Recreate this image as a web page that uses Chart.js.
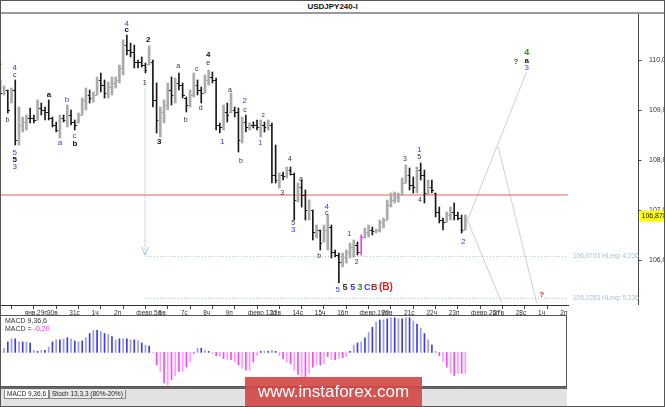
<!DOCTYPE html>
<html>
<head>
<meta charset="utf-8">
<script src="https://cdn.jsdelivr.net/npm/chart.js@4.4.0/dist/chart.umd.min.js"></script>
<style>
  html, body { margin: 0; padding: 0; background: #fff; }
  #frame { position: relative; width: 665px; height: 407px; overflow: hidden; background: #fff; font-family: "Liberation Sans", Arial, sans-serif; }
  #title { position: absolute; left: 0; top: 2px; width: 100%; text-align: center; font: bold 8px "Liberation Sans", Arial, sans-serif; color: #111; }
  #titleLine { position: absolute; left: 0; top: 12px; width: 100%; height: 2px; background: #9a9a9a; }
  #priceCanvas { position: absolute; left: 0; top: 14px; }
  #macdBox { position: absolute; left: 0; top: 315px; width: 567px; height: 72px; border: 1px solid #555; box-sizing: border-box; }
  #macdCanvas { position: absolute; left: 0; top: 0; }
  .macdTxt { position: absolute; left: 4px; font: 7px "Liberation Sans", Arial, sans-serif; color: #333; white-space: nowrap; }
  #tabs { position: absolute; left: 0; top: 387px; width: 567px; height: 20px; background: #e2e2e2; border-top: 2px solid #666; box-sizing: border-box; }
  .tab { position: absolute; top: 1px; height: 8px; font: 6.5px "Liberation Sans", Arial, sans-serif; line-height: 8px; color: #222; border: 1px solid #888; border-top: none; padding: 0 2px; white-space: nowrap; }
  #wm { position: absolute; left: 245px; top: 377px; width: 177px; height: 30px; background: rgba(212, 72, 72, 0.92); color: #fff; font: 17px "Liberation Sans", Arial, sans-serif; line-height: 30px; text-align: center; }
  #border { position: absolute; left: 0; top: 0; width: 665px; height: 407px; border: 1px solid #555; box-sizing: border-box; pointer-events: none; }
</style>
</head>
<body>
<div id="frame">
  <div id="title">USDJPY240-I</div>
  <div id="titleLine"></div>
  <canvas id="priceCanvas" width="665" height="302"></canvas>
  <div id="macdBox">
    <canvas id="macdCanvas" width="565" height="70"></canvas>
    <div class="macdTxt" style="top:1px">MACD 9,36,6</div>
    <div class="macdTxt" style="top:9px">MACD = <span style="color:#ff33ff">-0,20</span></div>
  </div>
  <div id="tabs">
    <div class="tab" style="left:4px;background:#fff">MACD 9,36,6</div>
    <div class="tab" style="left:49px;background:#e8e8e8">Stoch 13,3,3 (80%-20%)</div>
  </div>
  <div id="wm">www.instaforex.com</div>
  <div id="border"></div>
</div>
<script>
// 4h bars, index 0 = Jan 29 00:00
const FIRST_BAR = -6;

const highs = [
  109.60, 109.48, 109.40, 109.44, 109.60, 109.06,
  108.86, 108.90, 109.04, 108.90, 109.20, 109.14, 109.06, 109.20, 108.86, 108.76,
  108.90, 108.90, 109.10, 109.00, 108.80, 108.94, 109.24, 109.44, 109.40, 109.36,
  109.66, 109.74, 109.60, 109.56, 109.66, 109.66, 109.90, 110.40, 110.50, 110.34,
  110.30, 110.00, 110.06, 109.94, 110.28, 110.00, 109.54, 109.06, 109.20, 109.54,
  109.66, 109.64, 109.74, 109.54, 109.26, 109.40, 109.74, 109.60, 109.46, 109.70,
  109.80, 109.76, 109.64, 108.74, 109.10, 109.14, 109.34, 109.06, 109.04, 108.86,
  108.90, 108.74, 108.76, 108.80, 108.80, 108.76, 108.80, 108.74, 108.30, 107.74,
  107.76, 107.86, 107.86, 107.74, 107.54, 107.60, 107.40, 107.20, 107.00, 106.70,
  106.60, 106.70, 106.90, 106.70, 106.20, 106.14, 106.14, 106.20, 106.34, 106.40,
  106.36, 106.50, 106.64, 106.70, 106.66, 106.62, 106.80, 106.84, 107.20, 107.34,
  107.36, 107.34, 107.64, 107.90, 107.84, 107.66, 107.86, 107.94, 107.80, 107.60,
  107.60, 107.34, 107.06, 106.84, 106.96, 107.06, 107.14, 106.96, 106.90, 106.90
];
const lows = [
  109.30, 109.30, 108.94, 109.14, 108.30, 108.30,
  108.56, 108.60, 108.74, 108.74, 108.80, 108.90, 108.80, 108.80, 108.66, 108.56,
  108.44, 108.76, 108.66, 108.70, 108.60, 108.74, 108.90, 109.00, 109.14, 109.16,
  109.30, 109.36, 109.24, 109.24, 109.30, 109.44, 109.54, 109.70, 110.10, 110.06,
  109.84, 109.84, 109.86, 109.74, 109.90, 109.06, 108.54, 108.46, 108.74, 109.00,
  109.10, 109.14, 109.40, 109.24, 108.96, 109.06, 109.26, 109.30, 109.14, 109.34,
  109.50, 109.54, 108.60, 108.54, 108.60, 108.76, 108.94, 108.86, 108.16, 108.34,
  108.56, 108.60, 108.64, 108.60, 108.46, 108.56, 108.60, 107.54, 107.54, 107.44,
  107.60, 107.64, 107.70, 106.80, 107.16, 107.06, 106.80, 106.80, 106.40, 106.44,
  106.20, 106.36, 106.20, 106.04, 106.06, 105.54, 105.86, 105.94, 106.04, 106.06,
  106.10, 106.10, 106.44, 106.46, 106.50, 106.54, 106.56, 106.64, 106.80, 107.06,
  107.14, 107.16, 107.30, 107.54, 107.40, 107.34, 107.34, 107.60, 107.14, 107.30,
  107.34, 106.86, 106.74, 106.60, 106.76, 106.80, 106.80, 106.80, 106.54, 106.60
];
const opens = [
  109.50, 109.35, 109.40, 109.15, 109.40, 108.40,
  108.70, 108.75, 108.85, 108.85, 108.80, 109.05, 109.00, 108.95, 108.85, 108.70,
  108.60, 108.85, 108.80, 108.90, 108.75, 108.75, 108.90, 109.20, 109.30, 109.25,
  109.30, 109.60, 109.50, 109.35, 109.45, 109.55, 109.60, 109.85, 110.30, 110.20,
  110.15, 109.95, 109.95, 109.90, 109.92, 109.95, 109.20, 108.80, 108.95, 109.10,
  109.40, 109.30, 109.55, 109.50, 109.25, 109.10, 109.30, 109.50, 109.40, 109.35,
  109.60, 109.65, 109.60, 108.70, 108.65, 108.95, 108.95, 109.00, 108.95, 108.40,
  108.75, 108.65, 108.70, 108.70, 108.65, 108.70, 108.65, 108.70, 107.70, 107.60,
  107.70, 107.68, 107.80, 107.72, 107.20, 107.45, 107.30, 107.00, 107.00, 106.55,
  106.60, 106.38, 106.60, 106.65, 106.15, 106.10, 105.95, 106.05, 106.15, 106.25,
  106.30, 106.15, 106.45, 106.55, 106.60, 106.58, 106.60, 106.75, 106.80, 107.10,
  107.20, 107.25, 107.30, 107.55, 107.70, 107.50, 107.45, 107.80, 107.70, 107.35,
  107.45, 107.34, 106.95, 106.80, 106.76, 106.90, 106.95, 106.90, 106.85, 106.60
];
const closes = [
  109.35, 109.40, 109.00, 109.40, 108.40, 108.70,
  108.75, 108.85, 108.85, 108.80, 109.05, 109.00, 108.95, 108.85, 108.70, 108.60,
  108.85, 108.80, 108.90, 108.75, 108.70, 108.90, 109.20, 109.30, 109.25, 109.30,
  109.60, 109.50, 109.35, 109.45, 109.55, 109.60, 109.85, 110.30, 110.20, 110.15,
  109.95, 109.95, 109.90, 109.80, 109.95, 109.20, 108.80, 108.95, 109.10, 109.40,
  109.30, 109.55, 109.50, 109.30, 109.10, 109.30, 109.50, 109.40, 109.35, 109.60,
  109.65, 109.60, 108.70, 108.65, 108.95, 108.90, 109.00, 108.95, 108.40, 108.75,
  108.65, 108.70, 108.70, 108.65, 108.70, 108.65, 108.70, 107.70, 107.60, 107.70,
  107.68, 107.80, 107.72, 107.20, 107.45, 107.30, 107.00, 107.10, 106.55, 106.60,
  106.35, 106.60, 106.65, 106.15, 106.10, 105.95, 106.05, 106.15, 106.25, 106.30,
  106.15, 106.45, 106.55, 106.60, 106.58, 106.60, 106.75, 106.80, 107.10, 107.20,
  107.25, 107.30, 107.55, 107.70, 107.50, 107.45, 107.80, 107.70, 107.35, 107.45,
  107.40, 106.95, 106.80, 106.75, 106.90, 106.95, 106.90, 106.85, 106.60, 106.878
];
const macdHist = [
  0.02, 0.04, 0.10, 0.13, 0.13, 0.10,
  0.10, 0.10, 0.09, 0.02, 0.01, 0.02, 0.02, 0.05, 0.10, 0.12,
  0.12, 0.13, 0.14, 0.13, 0.11, 0.10, 0.11, 0.14, 0.18, 0.21,
  0.21, 0.20, 0.18, 0.17, 0.15, 0.12, 0.13, 0.13, 0.13, 0.12,
  0.12, 0.11, 0.09, 0.07, 0.06, -0.005, -0.12, -0.18, -0.29, -0.31,
  -0.26, -0.22, -0.18, -0.18, -0.14, -0.09, -0.01, 0.04, 0.04, 0.02,
  0.01, -0.01, -0.03, -0.04, -0.06, -0.07, -0.07, -0.09, -0.12, -0.15,
  -0.17, -0.17, -0.09, -0.03, 0.01, 0.01, 0.01, 0.02, 0.01, -0.03,
  -0.06, -0.09, -0.11, -0.17, -0.21, -0.23, -0.23, -0.20, -0.14, -0.12,
  -0.12, -0.11, -0.04, -0.07, -0.07, -0.06, -0.05, -0.04, 0.01, 0.07,
  0.09, 0.10, 0.14, 0.19, 0.24, 0.29, 0.31, 0.31, 0.32, 0.33,
  0.33, 0.32, 0.32, 0.33, 0.33, 0.30, 0.27, 0.23, 0.18, 0.12,
  0.07, 0.01, -0.03, -0.09, -0.14, -0.20, -0.22, -0.20, -0.20, -0.20
];

// one tick per trading day (6 bars)
const dayTicks = [0, 6, 12, 18, 24, 30, 36, 42, 48, 54, 60, 66, 72, 78, 84, 90, 96, 102, 108, 114, 120, 126, 132, 138, 144];
const dayLabels = ["янв.29п", "30в", "31с", "1ч", "2п", "февр.5п", "6в", "7с", "8ч", "9п",
  "февр.12п", "13в", "14с", "15ч", "16п", "февр.19п", "20в", "21с", "22ч", "23п",
  "февр.26п", "27в", "28с", "1ч", "2п"];
const priceTicks = [106, 107, 108, 109, 110];

const levelPrice = 107.3;
const fibLevels = [106.0703, 105.2283];
const fibNames = ["106,0703 HLexp 4,236", "105,2283 HLexp 5,236"];
const fibStart = 32.9;
const arrowLine = [[32.9, 109.64], [32.9, 106.10]];
const arrowHead = [[31.95, 106.26], [32.9, 106.10], [33.85, 106.26]];
const projections = [
  [[118.4, 106.57], [135.5, 109.77]],
  [[127.8, 108.27], [138.2, 105.14]],
  [[119.2, 106.86], [128.8, 105.14]]
];
const lastPrice = 106.878;
const highlightBar = 91;

// wave marks: [bar index, price, text, kind]
const waveLabels = [
  [-6.2, 109.94, "a", "k"], [-2.15, 109.84, "4", "b"], [-2.15, 109.70, "c", "k"],
  [-4.09, 108.80, "b", "k"], [-2.15, 108.14, "5", "b"], [-2.15, 108.00, "5", "kb"],
  [-2.15, 107.86, "3", "b"], [7.07, 109.30, "a", "kb"], [11.9, 109.20, "b", "b"],
  [10.03, 108.34, "a", "b"], [13.9, 108.49, "c", "b"], [14.06, 108.32, "b", "kb"],
  [27.96, 110.72, "4", "b"], [27.96, 110.60, "c", "kb"], [33.76, 110.41, "2", "kb"],
  [32.8, 109.53, "1", "k"], [36.7, 108.37, "3", "kb"], [41.83, 109.87, "a", "k"],
  [43.8, 108.80, "b", "k"], [46.77, 109.81, "c", "k"], [47.85, 109.03, "d", "k"],
  [49.9, 110.10, "4", "kb"], [49.9, 109.93, "e", "k"], [53.66, 108.37, "1", "b"],
  [55.73, 109.40, "a", "k"], [59.68, 109.19, "2", "b"], [59.76, 109.00, "c", "k"],
  [58.68, 107.97, "b", "k"], [63.87, 108.33, "1", "bs"], [64.68, 108.90, "2", "ks"],
  [69.79, 107.34, "3", "k"], [71.85, 108.01, "4", "k"], [74.81, 107.61, "a", "k"],
  [72.74, 106.73, "5", "k"], [72.74, 106.60, "3", "b"], [81.72, 107.07, "4", "b"],
  [81.72, 106.93, "c", "k"], [79.73, 106.07, "b", "k"], [84.68, 105.40, "5", "b"],
  [87.8, 106.51, "1", "k"], [89.78, 105.95, "2", "k"],
  [86.64, 105.45, "5", "rowk"], [88.71, 105.45, "5", "rowb"], [90.67, 105.45, "3", "rowg"],
  [92.63, 105.45, "C", "rowb"], [94.52, 105.45, "B", "rowdr"], [97.66, 105.45, "(B)", "rowr"],
  [102.77, 108.01, "3", "k"], [106.61, 108.21, "1", "b"], [106.61, 108.05, "5", "k"],
  [106.8, 107.19, "4", "k"], [118.44, 106.37, "2", "b"],
  [135.5, 110.15, "4", "g"], [132.6, 109.97, "?", "ol"], [135.5, 109.99, "a", "kb"],
  [135.5, 109.85, "3", "b"], [139.5, 105.31, "?", "r"]
];

const FONT = '"Liberation Sans", Arial, sans-serif';
const labelStyles = {
  k: ["7px " + FONT, "#333"],
  kb: ["bold 8px " + FONT, "#111"],
  ks: ["6px " + FONT, "#333"],
  b: ["8px " + FONT, "#3535ff"],
  bs: ["7px " + FONT, "#3535ff"],
  g: ["bold 9px " + FONT, "#3a8a2a"],
  ol: ["bold 8px " + FONT, "#555522"],
  r: ["bold 8px " + FONT, "#e02020"],
  rowk: ["bold 9px " + FONT, "#333"],
  rowb: ["bold 9px " + FONT, "#3535ff"],
  rowg: ["bold 9px " + FONT, "#2e8b2e"],
  rowdr: ["bold 9px " + FONT, "#993333"],
  rowr: ["bold 10px " + FONT, "#dd2222"]
};

const UP_COLOR = "#ababab";
const DOWN_COLOR = "#1a1a1a";
const HILITE = "#ff33ff";

const bars = highs.map((h, k) => ({ x: FIRST_BAR + k, y: [lows[k], h], o: opens[k], c: closes[k] }));
const seg = (pts) => pts.map(p => ({ x: p[0], y: p[1] }));
const lineDs = (data, color, dash) => ({
  type: "line", data: data, borderColor: color, borderWidth: 1, borderDash: dash || [],
  pointRadius: 0, fill: false, tension: 0, order: 2
});

// open/close ticks, right axis line, texts
const priceDecor = {
  id: "priceDecor",
  afterDatasetsDraw(chart) {
    const g = chart.ctx, xs = chart.scales.x, ys = chart.scales.y, area = chart.chartArea;
    g.save();
    g.lineWidth = 1;
    bars.forEach(b => {
      const x = Math.round(xs.getPixelForValue(b.x));
      const up = b.c > b.o;
      g.strokeStyle = b.x === highlightBar ? HILITE : (up ? UP_COLOR : DOWN_COLOR);
      const yo = Math.round(ys.getPixelForValue(b.o)) + 0.5;
      const yc = Math.round(ys.getPixelForValue(b.c)) + 0.5;
      g.beginPath();
      g.moveTo(x - 2, yo); g.lineTo(x, yo);
      g.moveTo(x, yc); g.lineTo(x + 2, yc);
      g.stroke();
    });

    // price axis line with tick marks
    const ax = area.right + 70.5;
    g.strokeStyle = "#444";
    g.beginPath();
    g.moveTo(ax, area.top); g.lineTo(ax, area.bottom);
    priceTicks.forEach(v => {
      const y = Math.round(ys.getPixelForValue(v)) + 0.5;
      g.moveTo(ax, y); g.lineTo(ax + 3, y);
    });
    g.stroke();

    // fib level captions
    g.font = "6.5px " + FONT;
    g.fillStyle = "#a6bfd0";
    g.textAlign = "left";
    g.textBaseline = "middle";
    fibLevels.forEach((v, k) => {
      g.fillText(fibNames[k], area.right + 5, ys.getPixelForValue(v));
    });

    // last price box
    const yl = ys.getPixelForValue(lastPrice);
    g.fillStyle = "#ffff00";
    g.fillRect(ax + 1, yl - 5.5, 30, 11);
    g.fillStyle = "#111";
    g.font = "7px " + FONT;
    g.fillText("106,878", ax + 3, yl);

    // wave marks
    g.textAlign = "center";
    waveLabels.forEach(w => {
      const st = labelStyles[w[3]];
      g.font = st[0];
      g.fillStyle = st[1];
      g.fillText(w[2], xs.getPixelForValue(w[0]), ys.getPixelForValue(w[1]));
    });
    g.restore();
  }
};

new Chart(document.getElementById("priceCanvas"), {
  type: "bar",
  data: {
    datasets: [
      { data: bars.filter(b => b.c > b.o && b.x !== highlightBar), backgroundColor: UP_COLOR,
        barThickness: 2, grouped: false, order: 0 },
      { data: bars.filter(b => b.c <= b.o), backgroundColor: DOWN_COLOR, barThickness: 1, grouped: false, order: 0 },
      { data: bars.filter(b => b.x === highlightBar), backgroundColor: HILITE, barThickness: 1, grouped: false, order: 0 },
      lineDs([{ x: -6.1, y: levelPrice }, { x: 146.6, y: levelPrice }], "#ef5a5a"),
      lineDs([{ x: fibStart, y: fibLevels[0] }, { x: 146.6, y: fibLevels[0] }], "#a9c6d6", [1, 2]),
      lineDs([{ x: fibStart, y: fibLevels[1] }, { x: 146.6, y: fibLevels[1] }], "#a9c6d6", [1, 2]),
      lineDs(seg(arrowLine), "#9fc9d9", [1, 1]),
      lineDs(seg(arrowHead), "#9fc9d9"),
      lineDs(seg(projections[0]), "#d4ccd4"),
      lineDs(seg(projections[1]), "#d4ccd4"),
      lineDs(seg(projections[2]), "#d4ccd4")
    ]
  },
  options: {
    responsive: false,
    animation: false,
    devicePixelRatio: 1,
    layout: { padding: 0 },
    plugins: { legend: { display: false }, tooltip: { enabled: false } },
    scales: {
      x: {
        type: "linear", min: -6.1, max: 146.6, offset: false, position: "bottom",
        grid: { drawOnChartArea: false, drawTicks: true, tickLength: 4, color: "#444" },
        border: { display: true, color: "#333" },
        ticks: {
          autoSkip: false, maxRotation: 0, minRotation: 0, align: "start", labelOffset: 2, padding: 0,
          font: { size: 6.5, family: FONT }, color: "#333",
          callback: (v, k) => dayLabels[k]
        },
        afterBuildTicks: s => { s.ticks = dayTicks.map(v => ({ value: v })); },
        afterFit: s => { s.height = 11; s.paddingLeft = 0; s.paddingRight = 0; }
      },
      y: {
        type: "linear", position: "right", min: 105.1, max: 110.92,
        grid: { display: false }, border: { display: false },
        ticks: { padding: 73, font: { size: 7, family: FONT }, color: "#333",
          callback: v => v.toFixed(3).replace(".", ",") },
        afterBuildTicks: s => { s.ticks = priceTicks.map(v => ({ value: v })); },
        afterFit: s => { s.width = 97; s.paddingTop = 0; s.paddingBottom = 0; }
      }
    }
  },
  plugins: [priceDecor]
});

new Chart(document.getElementById("macdCanvas"), {
  type: "bar",
  data: {
    datasets: [{
      data: macdHist.map((v, k) => ({ x: FIRST_BAR + k, y: v })),
      barThickness: 1,
      backgroundColor: ctx => {
        const v = ctx.raw ? ctx.raw.y : 0;
        const alt = ctx.dataIndex % 2;
        if (v >= 0) return alt ? "#9a9af5" : "#3a3af0";
        return alt ? "#ff9bff" : "#ff44ff";
      }
    }]
  },
  options: {
    responsive: false,
    animation: false,
    devicePixelRatio: 1,
    layout: { padding: 0 },
    plugins: { legend: { display: false }, tooltip: { enabled: false } },
    scales: {
      x: { type: "linear", display: false, min: -5.83, max: 146.05, offset: false },
      y: { display: false, min: -0.32, max: 0.347 }
    }
  }
});
</script>
</body>
</html>
